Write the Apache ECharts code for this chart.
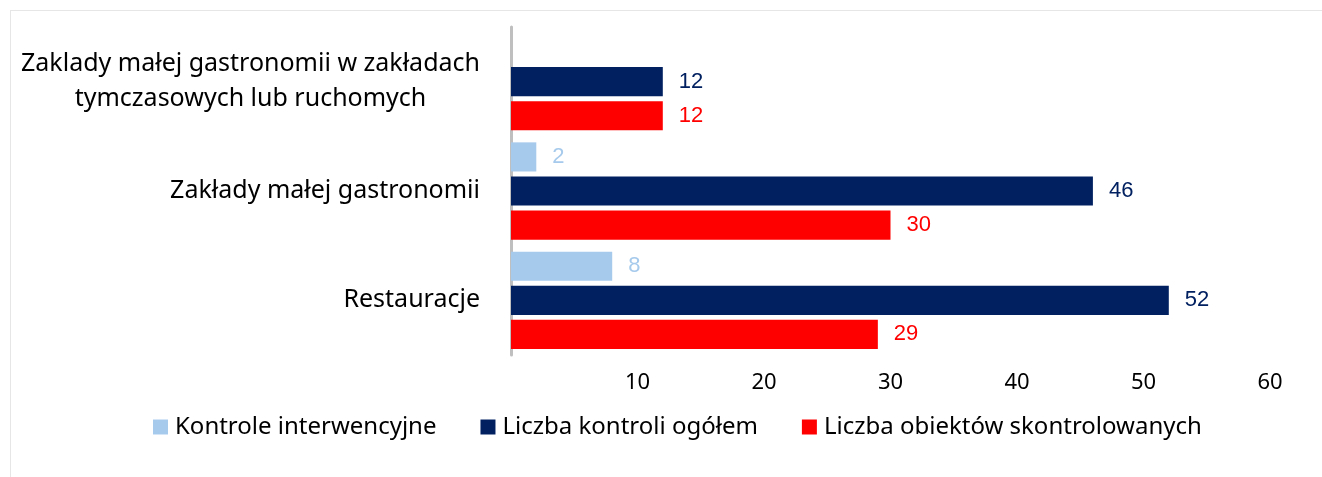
<!DOCTYPE html>
<html>
<head>
<meta charset="utf-8">
<script src="https://cdn.jsdelivr.net/npm/echarts@6/dist/echarts.min.js"></script>
<style>
    html, body { margin: 0; padding: 0; background: #fff; }
    #chart { width: 1322px; height: 477px; }
</style>
</head>
<body>
<div id="chart"></div>
<script>
// categories, top to bottom
const categories = [
    'Zaklady małej gastronomii w zakładach\ntymczasowych lub ruchomych',
    'Zakłady małej gastronomii',
    'Restauracje'
]
const seriesNames = ['Kontrole interwencyjne', 'Liczba kontroli ogółem', 'Liczba obiektów skontrolowanych']
const interwencyjne = [null, 2, 8]
const ogolem = [12, 46, 52]
const obiekty = [12, 30, 29]
const xTicks = [0, 10, 20, 30, 40, 50, 60]

const colors = ['#A6CAEC', '#002060', '#FF0000']
const catFont = '25px "Noto Sans"'

// width of the first line of the wrapped label, so the 2nd line can be centered under it
const measure = (txt) => {
    const ctx = document.createElement('canvas').getContext('2d')
    ctx.font = catFont
    return Math.ceil(ctx.measureText(txt).width)
}

const chart = echarts.init(document.getElementById('chart'))

const makeSeries = (name, data, i) => ({
    name: name,
    type: 'bar',
    data: data,
    barCategoryGap: '11%',
    barGap: '17%',
    itemStyle: { color: colors[i] },
    label: {
        show: true,
        position: 'right',
        distance: 16,
        color: colors[i],
        fontFamily: 'Liberation Sans',
        fontSize: 22
    }
})

const option = {
    animation: false,
    graphic: [
        { type: 'line', shape: { x1: 10, y1: 10.5, x2: 1322, y2: 10.5 }, style: { stroke: '#E6E6E6', lineWidth: 1 } },
        { type: 'line', shape: { x1: 10.5, y1: 10, x2: 10.5, y2: 477 }, style: { stroke: '#E6E6E6', lineWidth: 1 } }
    ],
    grid: {
        left: 511,
        right: 52,
        top: 27,
        bottom: 122
    },
    legend: {
        top: 410,
        left: 148,
        itemWidth: 15,
        itemHeight: 15,
        itemGap: 44,
        icon: 'rect',
        data: seriesNames,
        textStyle: { fontFamily: 'Noto Sans', fontSize: 24, color: '#000', padding: [0, 0, 0, 2] }
    },
    xAxis: {
        type: 'value',
        min: xTicks[0],
        max: xTicks[xTicks.length - 1],
        interval: 10,
        axisLine: { show: false },
        axisTick: { show: false },
        splitLine: { show: false },
        axisLabel: {
            showMinLabel: false,
            margin: 17,
            color: '#000',
            fontFamily: 'Noto Sans',
            fontSize: 22
        }
    },
    yAxis: {
        type: 'category',
        inverse: true,
        data: categories,
        axisLine: { show: true, lineStyle: { color: '#BFBFBF', width: 3 } },
        axisTick: { show: false },
        axisLabel: {
            margin: 31,
            color: '#000',
            formatter: function (value) {
                let parts = value.split('\n')
                if (parts.length === 1) return '{a|' + value + '}'
                return '{a|' + parts[0] + '}\n{b|' + parts[1] + '}'
            },
            rich: {
                a: { fontFamily: 'Noto Sans', fontSize: 25, color: '#000', lineHeight: 35 },
                b: { fontFamily: 'Noto Sans', fontSize: 25, color: '#000', lineHeight: 35,
                     width: measure(categories[0].split('\n')[0]), align: 'center' }
            }
        }
    },
    series: [
        makeSeries(seriesNames[0], interwencyjne, 0),
        makeSeries(seriesNames[1], ogolem, 1),
        makeSeries(seriesNames[2], obiekty, 2)
    ]
}
chart.setOption(option)
</script>
</body>
</html>
